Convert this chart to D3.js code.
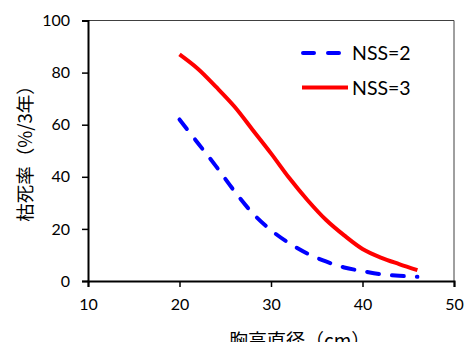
<!DOCTYPE html>
<html>
<head>
<meta charset="utf-8">
<script src="https://cdn.jsdelivr.net/npm/d3@7"></script>
<style>
  html, body { margin: 0; padding: 0; background: #fff; }
  svg { display: block; }
  text { font-family: Lato, "Noto Sans", sans-serif; fill: #000; }
  .cjk { font-family: "Noto Sans CJK JP", "Noto Sans CJK SC", sans-serif; }
</style>
</head>
<body>
<svg id="chart" width="464" height="342"></svg>
<script>
// Diameter at breast height (cm) and 3-year mortality (%) per series
const dbh = [20, 22, 24, 26, 28, 30, 32, 34, 36, 38, 40, 42, 44, 46];
const nss2 = [62, 53, 44, 34.5, 26, 19.5, 14.5, 10.5, 7.5, 5.2, 3.8, 2.6, 2, 1.6];
const nss3 = [87, 81.5, 74.5, 67, 58, 49, 39.5, 31, 23.5, 17.5, 12.3, 9, 6.5, 4.2];
const xTicks = [10, 20, 30, 40, 50];
const yTicks = [0, 20, 40, 60, 80, 100];
const seriesNames = ["NSS=2", "NSS=3"];
const seriesColors = ["#0000ff", "#ff0000"];
const xTitle = "胸高直径（cm）";
const yTitle = "枯死率（%/3年）";

const svg = d3.select("#chart");
const x = d3.scaleLinear().domain([10, 50]).range([88, 454]);
const y = d3.scaleLinear().domain([0, 100]).range([281, 20.5]);

// Plot frame: thin top and right edges
svg.append("line").attr("x1", x(10)).attr("x2", x(50)).attr("y1", y(100)).attr("y2", y(100))
  .attr("stroke", "#404040").attr("stroke-width", 1);
svg.append("line").attr("x1", x(50)).attr("x2", x(50)).attr("y1", y(100)).attr("y2", y(0))
  .attr("stroke", "#404040").attr("stroke-width", 1);

// Axes
const xAxis = svg.append("g").attr("transform", `translate(0,${y(0)})`)
  .call(d3.axisBottom(x).tickValues(xTicks).tickSize(6).tickPadding(12).tickFormat(d3.format("d")));
const yAxis = svg.append("g").attr("transform", `translate(${x(10)},0)`)
  .call(d3.axisLeft(y).tickValues(yTicks).tickSize(6).tickPadding(12).tickFormat(d3.format("d")));
[xAxis, yAxis].forEach(g => {
  g.select(".domain").attr("stroke", "#000").attr("stroke-width", 2);
  g.selectAll(".tick line").attr("stroke", "#000").attr("stroke-width", 1.5);
  g.selectAll(".tick text").style("font-family", "Lato, sans-serif").style("font-size", "16px").attr("fill", "#000");
});

// Curves
const line = d3.line().x((d, i) => x(dbh[i])).y(d => y(d)).curve(d3.curveCatmullRom.alpha(0.5));
svg.append("path").datum(nss2).attr("d", line)
  .attr("fill", "none").attr("stroke", seriesColors[0]).attr("stroke-width", 4)
  .attr("stroke-dasharray", "12,13").attr("stroke-linecap", "round");
svg.append("path").datum(nss3).attr("d", line)
  .attr("fill", "none").attr("stroke", seriesColors[1]).attr("stroke-width", 4);

// Legend
const legend = svg.append("g");
const legendY = [53, 87.5];
legend.append("line").attr("x1", 303).attr("x2", 343).attr("y1", legendY[0]).attr("y2", legendY[0])
  .attr("stroke", seriesColors[0]).attr("stroke-width", 4).attr("stroke-dasharray", "11,14").attr("stroke-linecap", "round");
legend.append("line").attr("x1", 302).attr("x2", 348).attr("y1", legendY[1]).attr("y2", legendY[1])
  .attr("stroke", seriesColors[1]).attr("stroke-width", 4);
seriesNames.forEach((name, i) => {
  legend.append("text").attr("x", 352).attr("y", legendY[i] + 7)
    .style("font-size", "19.5px").text(name);
});

// Axis titles
svg.append("text").attr("class", "cjk").attr("x", 229).attr("y", 348)
  .attr("text-anchor", "start").style("font-size", "19px").text(xTitle);
svg.append("text").attr("class", "cjk")
  .attr("transform", `translate(32,149) rotate(-90)`)
  .attr("text-anchor", "middle").style("font-size", "18.5px").text(yTitle);
</script>
</body>
</html>
